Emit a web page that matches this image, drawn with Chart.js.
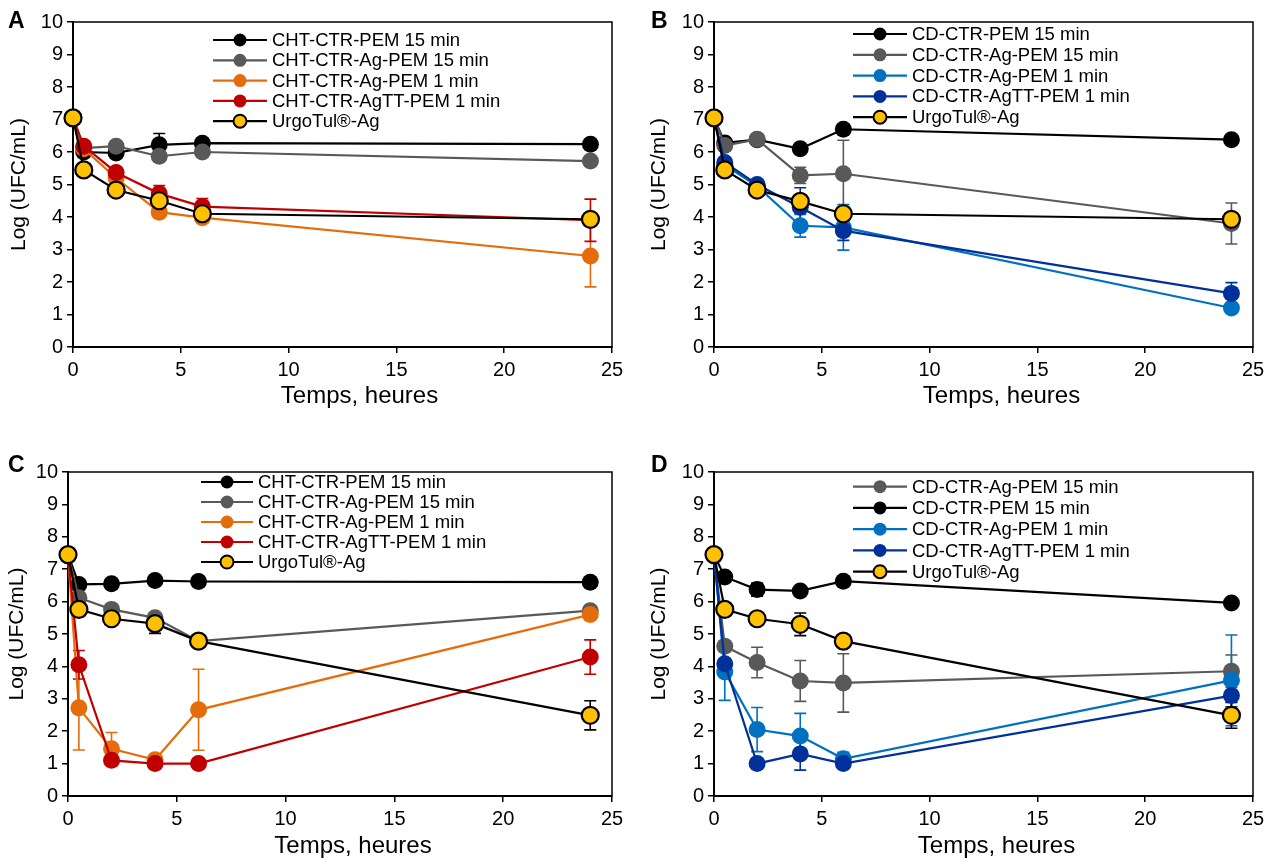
<!DOCTYPE html>
<html lang="fr">
<head>
<meta charset="UTF-8">
<title>Log (UFC/mL) en fonction du temps</title>
<script src="https://cdn.jsdelivr.net/npm/chart.js"></script>
<style>
  body { margin: 0; background: #fff; width: 1274px; height: 860px; overflow: hidden; position: relative; }
  .panel { position: absolute; width: 637px; height: 430px; }
  canvas { display: block; }
</style>
</head>
<body>
<div class="panel" style="left:0;top:0"><canvas id="chartA" width="637" height="430"></canvas></div>
<div class="panel" style="left:637px;top:0"><canvas id="chartB" width="637" height="430"></canvas></div>
<div class="panel" style="left:0;top:430px"><canvas id="chartC" width="637" height="430"></canvas></div>
<div class="panel" style="left:637px;top:430px"><canvas id="chartD" width="637" height="430"></canvas></div>

<script>
// sampling times (hours)
const hours = [0, 0.5, 2, 4, 6, 24];
const xTicksMax = 25;
const yTicksMax = 10;

// Panel A - CHT
const namesA = ['CHT-CTR-PEM 15 min', 'CHT-CTR-Ag-PEM 15 min', 'CHT-CTR-Ag-PEM 1 min', 'CHT-CTR-AgTT-PEM 1 min', 'UrgoTul®-Ag'];
const aPem15 = [7.05, 6.0, 5.97, 6.22, 6.27, 6.24];
const aPem15Err = [0, 0, 0, 0.35, 0, 0];
const aAg15 = [7.05, 6.12, 6.18, 5.87, 6.0, 5.72];
const aAg15Err = [0, 0, 0, 0, 0, 0];
const aAg1 = [7.05, 6.1, 5.2, 4.15, 3.98, 2.8];
const aAg1Err = [0, 0, 0, 0.15, 0, 0.95];
const aAgTT1 = [7.05, 6.18, 5.37, 4.72, 4.32, 3.9];
const aAgTT1Err = [0, 0, 0.15, 0.25, 0.25, 0.65];
const aUrgo = [7.05, 5.45, 4.83, 4.5, 4.1, 3.93];
const aUrgoErr = [0, 0, 0, 0, 0, 0];

// Panel B - CD
const namesB = ['CD-CTR-PEM 15 min', 'CD-CTR-Ag-PEM 15 min', 'CD-CTR-Ag-PEM 1 min', 'CD-CTR-AgTT-PEM 1 min', 'UrgoTul®-Ag'];
const bPem15 = [7.05, 6.28, 6.38, 6.1, 6.7, 6.38];
const bPem15Err = [0, 0, 0, 0, 0, 0];
const bAg15 = [7.05, 6.2, 6.39, 5.28, 5.33, 3.8];
const bAg15Err = [0, 0, 0, 0.25, 1.03, 0.63];
const bAg1 = [7.05, 5.6, 4.95, 3.73, 3.68, 1.2];
const bAg1Err = [0, 0, 0, 0.35, 0.7, 0];
const bAgTT1 = [7.05, 5.68, 5.0, 4.3, 3.58, 1.65];
const bAgTT1Err = [0, 0, 0, 0.6, 0.3, 0.33];
const bUrgo = [7.05, 5.45, 4.83, 4.48, 4.1, 3.93];
const bUrgoErr = [0, 0, 0, 0, 0, 0];

// Panel C - CHT
const namesC = ['CHT-CTR-PEM 15 min', 'CHT-CTR-Ag-PEM 15 min', 'CHT-CTR-Ag-PEM 1 min', 'CHT-CTR-AgTT-PEM 1 min', 'UrgoTul®-Ag'];
const cPem15 = [7.45, 6.53, 6.55, 6.65, 6.62, 6.6];
const cPem15Err = [0, 0, 0, 0, 0, 0];
const cAg15 = [7.45, 6.12, 5.76, 5.5, 4.78, 5.72];
const cAg15Err = [0, 0, 0, 0, 0, 0];
const cAg1 = [7.45, 2.72, 1.46, 1.12, 2.66, 5.6];
const cAg1Err = [0, 1.3, 0.5, 0.1, 1.25, 0];
const cAgTT1 = [7.45, 4.05, 1.1, 1.0, 1.0, 4.29];
const cAgTT1Err = [0, 0.44, 0, 0, 0, 0.53];
const cUrgo = [7.45, 5.76, 5.47, 5.32, 4.78, 2.49];
const cUrgoErr = [0, 0, 0, 0.3, 0, 0.45];

// Panel D - CD
const namesD = ['CD-CTR-Ag-PEM 15 min', 'CD-CTR-PEM 15 min', 'CD-CTR-Ag-PEM 1 min', 'CD-CTR-AgTT-PEM 1 min', 'UrgoTul®-Ag'];
const dAg15 = [7.45, 4.62, 4.12, 3.55, 3.49, 3.85];
const dAg15Err = [0, 0, 0.47, 0.63, 0.9, 0.5];
const dPem15 = [7.45, 6.76, 6.37, 6.33, 6.63, 5.96];
const dPem15Err = [0, 0, 0.2, 0, 0, 0];
const dAg1 = [7.45, 3.83, 2.05, 1.85, 1.15, 3.57];
const dAg1Err = [0, 0.88, 0.68, 0.7, 0.2, 1.4];
const dAgTT1 = [7.45, 4.08, 1.0, 1.3, 1.0, 3.1];
const dAgTT1Err = [0, 0, 0, 0.5, 0, 0.35];
const dUrgo = [7.45, 5.76, 5.47, 5.3, 4.78, 2.49];
const dUrgoErr = [0, 0, 0, 0.35, 0, 0.4];

const FONT = "'Liberation Sans', Arial, sans-serif";
const BLACK = '#000000', GREY = '#595959', ORANGE = '#E46C0A', RED = '#C00000',
      LIGHTBLUE = '#0070C0', DARKBLUE = '#00309A', YELLOW = '#FFC000';

Chart.defaults.font.family = FONT;
Chart.defaults.color = '#000';

// error bars drawn under the markers
const errorBars = {
  id: 'errorBars',
  beforeDatasetsDraw(chart) {
    const { ctx, scales: { x, y } } = chart;
    chart.data.datasets.forEach(ds => {
      ctx.save();
      ctx.strokeStyle = ds.errColor;
      ctx.lineWidth = 1.6;
      ds.data.forEach((p, k) => {
        const e = ds.errors[k];
        if (!e) return;
        const px = x.getPixelForValue(p.x);
        const top = y.getPixelForValue(p.y + e);
        const bot = y.getPixelForValue(p.y - e);
        ctx.beginPath();
        ctx.moveTo(px, top); ctx.lineTo(px, bot);
        ctx.moveTo(px - 6, top); ctx.lineTo(px + 6, top);
        ctx.moveTo(px - 6, bot); ctx.lineTo(px + 6, bot);
        ctx.stroke();
      });
      ctx.restore();
    });
  }
};

// box around plot area, legend inside, x title, panel letter
const decorations = {
  id: 'decorations',
  beforeDatasetsDraw(chart) {
    const { ctx, chartArea: a } = chart;
    ctx.save();
    ctx.strokeStyle = '#000';
    ctx.lineWidth = 1.5;
    ctx.strokeRect(a.left, a.top, a.right - a.left, a.bottom - a.top);
    ctx.restore();
  },
  afterDraw(chart, args, opts) {
    const { ctx, chartArea: a } = chart;
    const lg = opts.legend;
    ctx.save();
    chart.data.datasets.forEach((ds, i) => {
      const y = lg.y0 + i * lg.dy;
      ctx.strokeStyle = ds.borderColor;
      ctx.lineWidth = 2.2;
      ctx.beginPath();
      ctx.moveTo(lg.x0, y); ctx.lineTo(lg.x1, y);
      ctx.stroke();
      ctx.beginPath();
      ctx.arc((lg.x0 + lg.x1) / 2, y, 6.5, 0, Math.PI * 2);
      ctx.fillStyle = ds.pointBackgroundColor;
      ctx.fill();
      if (ds.pointBorderWidth) {
        ctx.lineWidth = 2;
        ctx.strokeStyle = ds.pointBorderColor;
        ctx.stroke();
      }
      ctx.fillStyle = '#000';
      ctx.font = '18.5px ' + FONT;
      ctx.textAlign = 'left';
      ctx.textBaseline = 'middle';
      ctx.fillText(ds.label, lg.tx, y + 1);
    });
    // x axis title
    ctx.font = '24px ' + FONT;
    ctx.textAlign = 'center';
    ctx.fillText('Temps, heures', (a.left + a.right) / 2 + opts.titleShift, opts.titleY);
    // panel letter
    ctx.font = 'bold 23px ' + FONT;
    ctx.textAlign = 'left';
    ctx.fillText(opts.letter, opts.letterX, opts.letterY);
    ctx.restore();
  }
};

function buildPanel(id, names, series, g) {
  const datasets = series.map((s, i) => {
    const isUrgo = s.fill === YELLOW;
    return {
      label: names[i],
      data: hours.map((h, k) => ({ x: h, y: s.values[k] })),
      errors: s.err,
      errColor: s.line,
      borderColor: s.line,
      borderWidth: 2.2,
      tension: 0,
      clip: false,
      pointRadius: 8.5,
      pointBackgroundColor: s.fill,
      pointBorderColor: isUrgo ? BLACK : s.fill,
      pointBorderWidth: isUrgo ? 2.2 : 0,
      order: series.length - i
    };
  });

  return new Chart(document.getElementById(id), {
    type: 'line',
    data: { datasets },
    options: {
      responsive: false,
      animation: false,
      devicePixelRatio: 1,
      events: [],
      layout: { padding: { left: 0, top: g.top, right: g.padRight, bottom: 0 } },
      plugins: {
        legend: { display: false },
        tooltip: { enabled: false },
        decorations: { legend: g.legend, letter: g.letter, letterX: g.letterX, letterY: g.letterY,
                       titleShift: g.titleShift, titleY: g.titleY }
      },
      scales: {
        x: {
          type: 'linear', min: 0, max: xTicksMax,
          afterFit(s) { s.height = 430 - g.bottom; },
          ticks: { stepSize: 5, color: '#000', font: { size: 20 }, padding: 5, maxRotation: 0 },
          grid: { display: true, drawOnChartArea: false, drawTicks: true, tickLength: 6, color: '#000', lineWidth: 1.5 },
          border: { display: true, color: '#000', width: 2 },
          title: { display: false }
        },
        y: {
          type: 'linear', min: 0, max: yTicksMax,
          afterFit(s) { s.width = g.left; },
          ticks: { stepSize: 1, color: '#000', font: { size: 20 }, padding: 4 },
          grid: { display: true, drawOnChartArea: false, drawTicks: true, tickLength: 6, color: '#000', lineWidth: 1.5 },
          border: { display: true, color: '#000', width: 2 },
          title: { display: true, text: 'Log (UFC/mL)', color: '#000', font: { size: 21 }, padding: { top: g.yTitlePad, bottom: 0 } }
        }
      }
    },
    plugins: [errorBars, decorations]
  });
}

buildPanel('chartA', namesA, [
  { values: aPem15, err: aPem15Err, line: BLACK, fill: BLACK },
  { values: aAg15, err: aAg15Err, line: GREY, fill: GREY },
  { values: aAg1, err: aAg1Err, line: ORANGE, fill: ORANGE },
  { values: aAgTT1, err: aAgTT1Err, line: RED, fill: RED },
  { values: aUrgo, err: aUrgoErr, line: BLACK, fill: YELLOW }
], { left: 73, padRight: 25, top: 22, bottom: 347, yTitlePad: 7, titleShift: 17, titleY: 396,
     letter: 'A', letterX: 8, letterY: 22,
     legend: { x0: 213, x1: 267, tx: 272, y0: 40, dy: 20.3 } });

buildPanel('chartB', namesB, [
  { values: bPem15, err: bPem15Err, line: BLACK, fill: BLACK },
  { values: bAg15, err: bAg15Err, line: GREY, fill: GREY },
  { values: bAg1, err: bAg1Err, line: LIGHTBLUE, fill: LIGHTBLUE },
  { values: bAgTT1, err: bAgTT1Err, line: DARKBLUE, fill: DARKBLUE },
  { values: bUrgo, err: bUrgoErr, line: BLACK, fill: YELLOW }
], { left: 77, padRight: 21, top: 22, bottom: 347, yTitlePad: 10, titleShift: 18, titleY: 396,
     letter: 'B', letterX: 14, letterY: 22,
     legend: { x0: 216, x1: 270, tx: 275, y0: 34, dy: 20.8 } });

buildPanel('chartC', namesC, [
  { values: cPem15, err: cPem15Err, line: BLACK, fill: BLACK },
  { values: cAg15, err: cAg15Err, line: GREY, fill: GREY },
  { values: cAg1, err: cAg1Err, line: ORANGE, fill: ORANGE },
  { values: cAgTT1, err: cAgTT1Err, line: RED, fill: RED },
  { values: cUrgo, err: cUrgoErr, line: BLACK, fill: YELLOW }
], { left: 68, padRight: 25, top: 42, bottom: 366, yTitlePad: 5, titleShift: 13, titleY: 416,
     letter: 'C', letterX: 8, letterY: 36,
     legend: { x0: 201, x1: 253, tx: 258, y0: 52, dy: 20 } });

buildPanel('chartD', namesD, [
  { values: dAg15, err: dAg15Err, line: GREY, fill: GREY },
  { values: dPem15, err: dPem15Err, line: BLACK, fill: BLACK },
  { values: dAg1, err: dAg1Err, line: LIGHTBLUE, fill: LIGHTBLUE },
  { values: dAgTT1, err: dAgTT1Err, line: DARKBLUE, fill: DARKBLUE },
  { values: dUrgo, err: dUrgoErr, line: BLACK, fill: YELLOW }
], { left: 77, padRight: 21, top: 42, bottom: 366, yTitlePad: 10, titleShift: 13, titleY: 416,
     letter: 'D', letterX: 14, letterY: 36,
     legend: { x0: 216, x1: 270, tx: 275, y0: 56.7, dy: 21.25 } });
</script>
</body>
</html>
